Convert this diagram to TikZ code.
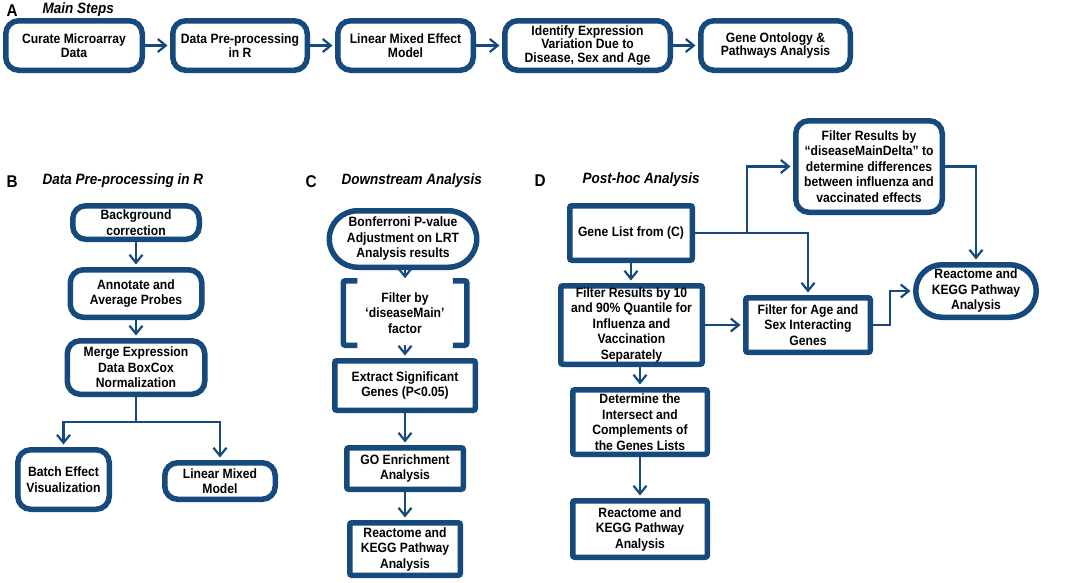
\documentclass[tikz,border=0pt]{standalone}
\usepackage{fontspec}
\setmainfont{Liberation Sans}[FakeStretch=0.9]
\usetikzlibrary{arrows.meta,shapes.misc}
\definecolor{flowblue}{RGB}{22,74,124}
\tikzset{
  box/.style={draw=flowblue, line width=5.5pt, fill=white, align=center, inner sep=1pt,
    font=\bfseries\fontsize{13.5}{15.5}\selectfont},
  rbox/.style={box, rounded corners=13pt},
  sbox/.style={box, rounded corners=2pt},
  pill/.style={box, rounded rectangle},
  link/.style={draw=flowblue, line width=2.2pt, shorten >=2.5pt,
    -{Straight Barb[length=8pt,width=13pt,line width=2.2pt]}},
  bracket/.style={draw=flowblue, line width=5.5pt, rounded corners=2pt},
  paneltag/.style={anchor=west, font=\bfseries\fontsize{17}{17}\selectfont},
  paneltitle/.style={anchor=west, font=\bfseries\itshape\fontsize{15}{15}\selectfont}
}
\begin{document}
\begin{tikzpicture}[x=1pt, y=-1pt]
  \useasboundingbox (0,0) rectangle (1084,582);

  % panel A
  \node[paneltag] (tagA) at (3,11) {A};
  \node[paneltitle] (titleA) at (39,10) {Main Steps};
  \node[rbox, minimum width=136.5, minimum height=49.5, font=\bfseries\fontsize{13.5}{13.5}\selectfont]
    (curate) at (74,45.5) {Curate Microarray\\Data};
  \node[rbox, minimum width=134.5, minimum height=49.5, font=\bfseries\fontsize{13.5}{13.5}\selectfont]
    (preproc) at (240,45.5) {Data Pre-processing\\in R};
  \node[rbox, minimum width=135.5, minimum height=49.5, font=\bfseries\fontsize{13.5}{13.5}\selectfont]
    (lmm) at (405.5,45.5) {Linear Mixed Effect\\Model};
  \node[rbox, minimum width=165.5, minimum height=49.5, font=\bfseries\fontsize{13.5}{13.5}\selectfont]
    (ident) at (587.5,45.5) {Identify Expression\\Variation Due to\\Disease, Sex and Age};
  \node[rbox, minimum width=149.5, minimum height=49.5, font=\bfseries\fontsize{13.5}{13.5}\selectfont]
    (goa) at (775.5,45.5) {Gene Ontology \&\\Pathways Analysis};
  \draw[link] (curate.east) -- (preproc.west);
  \draw[link] (preproc.east) -- (lmm.west);
  \draw[link] (lmm.east) -- (ident.west);
  \draw[link] (ident.east) -- (goa.west);

  % panel B
  \node[paneltag] (tagB) at (3,182) {B};
  \node[paneltitle] (titleB) at (39,181) {Data Pre-processing in R};
  \node[rbox, minimum width=126.5, minimum height=33.5] (bgc) at (136,222.5) {Background\\correction};
  \node[rbox, minimum width=131.5, minimum height=47.5] (annot) at (136,293.5) {Annotate and\\Average Probes};
  \node[rbox, minimum width=137.5, minimum height=53.5] (merge) at (136,367.5) {Merge Expression\\Data BoxCox\\Normalization};
  \node[rbox, minimum width=91.5, minimum height=59.5] (batch) at (63.5,479.5) {Batch Effect\\Visualization};
  \node[rbox, minimum width=110.5, minimum height=36.5] (lmmod) at (220,481) {Linear Mixed\\Model};
  \draw[link] (bgc) -- (annot);
  \draw[link] (annot) -- (merge);
  \draw[link] (merge.south) -- ++(0,25) -| (batch.north);
  \draw[link] (merge.south) -- ++(0,25) -| (lmmod.north);

  % panel C
  \node[paneltag] (tagC) at (302,182) {C};
  \node[paneltitle] (titleC) at (338,181) {Downstream Analysis};
  \node[pill, minimum width=149.5, minimum height=56.5] (bonf) at (403,239) {Bonferroni P-value\\Adjustment on LRT\\Analysis results};
  \node[box, draw=none, minimum width=118, minimum height=59] (filt) at (405,313) {Filter by\\‘diseaseMain’\\factor};
  \draw[bracket] ([xshift=14pt]filt.north west) -- (filt.north west) -- (filt.south west) -- ([xshift=14pt]filt.south west);
  \draw[bracket] ([xshift=-14pt]filt.north east) -- (filt.north east) -- (filt.south east) -- ([xshift=-14pt]filt.south east);
  \node[sbox, minimum width=140.5, minimum height=49.5] (extract) at (405,385.5) {Extract Significant\\Genes (P<0.05)};
  \node[sbox, minimum width=116.5, minimum height=41.5] (goenr) at (405,468.5) {GO Enrichment\\Analysis};
  \node[sbox, minimum width=110.5, minimum height=52.5] (reactC) at (405,549) {Reactome and\\KEGG Pathway\\Analysis};
  \draw[link] (bonf.south -| filt.north) -- (filt.north);
  \draw[link] (filt) -- (extract);
  \draw[link] (extract) -- (goenr);
  \draw[link] (goenr) -- (reactC);

  % panel D
  \node[paneltag] (tagD) at (531,181) {D};
  \node[paneltitle] (titleD) at (579,180) {Post-hoc Analysis};
  \node[rbox, minimum width=146.5, minimum height=91.5] (delta) at (869,166.5)
    {Filter Results by\\“diseaseMainDelta” to\\determine differences\\between influenza and\\vaccinated effects};
  \node[sbox, minimum width=122.5, minimum height=54.5] (gene) at (631,233) {Gene List from (C)};
  \node[pill, minimum width=122.5, minimum height=52.5] (reactD) at (976,291) {Reactome and\\KEGG Pathway\\Analysis};
  \node[sbox, minimum width=141.5, minimum height=78.5] (quant) at (631.5,325)
    {Filter Results by 10\\and 90\% Quantile for\\Influenza and\\Vaccination\\Separately};
  \node[sbox, minimum width=124.5, minimum height=54.5] (agesex) at (808,325) {Filter for Age and\\Sex Interacting\\Genes};
  \node[sbox, minimum width=134.5, minimum height=64.5] (inter) at (640,422)
    {Determine the\\Intersect and\\Complements of\\the Genes Lists};
  \node[sbox, minimum width=134.5, minimum height=56.5] (reactD2) at (640,529) {Reactome and\\KEGG Pathway\\Analysis};
  \draw[link] (gene.east) -- ++(52,0) |- (delta.west);
  \draw[link] (gene.east) -| (agesex.north);
  \draw[link] (delta.east) -| (reactD.north);
  \draw[link] (agesex.east) -- ++(17,0) |- (reactD.west);
  \draw[link] (gene.south) -- (gene.south |- quant.north);
  \draw[link] (quant.east) -- (agesex.west);
  \draw[link] (inter.north |- quant.south) -- (inter.north);
  \draw[link] (inter) -- (reactD2);
\end{tikzpicture}
\end{document}
